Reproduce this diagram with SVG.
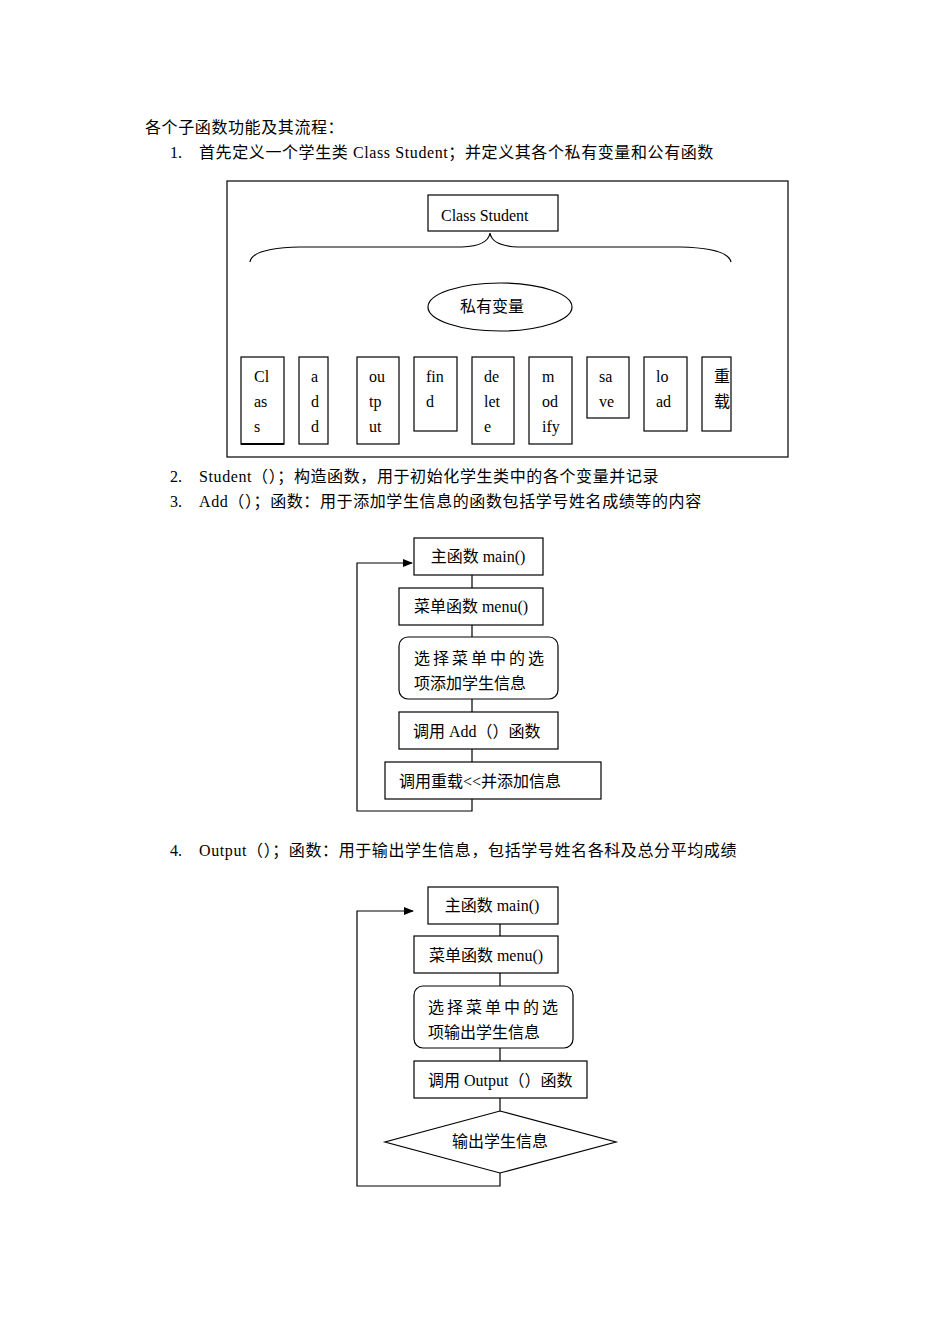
<svg xmlns="http://www.w3.org/2000/svg" width="950" height="1344" viewBox="0 0 950 1344">
<style>
text{font-family:"Liberation Serif","Noto Sans CJK SC",serif;font-size:16px;fill:#000}
.b{fill:#fff;stroke:#000;stroke-width:1.2}
.l{fill:none;stroke:#000;stroke-width:1.2}
.m{text-anchor:middle}
.w{letter-spacing:0.6px}
</style>
<defs><marker id="a" markerWidth="10" markerHeight="8" refX="9" refY="4" orient="auto" markerUnits="userSpaceOnUse"><path d="M0,0 L10,4 L0,8z"/></marker></defs>
<rect width="950" height="1344" fill="#fff"/>
<text class="w" x="145" y="133">各个子函数功能及其流程：</text>
<text x="170" y="158">1.</text><text class="w" x="199" y="158">首先定义一个学生类 Class Student；并定义其各个私有变量和公有函数</text>
<text x="170" y="482">2.</text><text class="w" x="199" y="482">Student（）；构造函数，用于初始化学生类中的各个变量并记录</text>
<text x="170" y="507">3.</text><text class="w" x="199" y="507">Add（）；函数：用于添加学生信息的函数包括学号姓名成绩等的内容</text>
<text x="170" y="856">4.</text><text class="w" x="199" y="856">Output（）；函数：用于输出学生信息，包括学号姓名各科及总分平均成绩</text>

<g id="frame"><rect class="l" x="227" y="181" width="561" height="276"/></g>
<g id="classStudent"><rect class="b" x="428" y="195" width="130" height="36"/><text x="441" y="221">Class Student</text></g>
<g id="brace"><path class="l" d="M250,262 Q252,248 300,247 L462,247 Q488,246 490,233 Q492,246 518,247 L680,247 Q728,248 731,262"/></g>
<g id="private"><ellipse class="b" cx="500" cy="307" rx="72" ry="24"/><text class="m" x="492" y="312">私有变量</text></g>
<g id="m1"><rect class="b" x="241" y="357" width="43" height="87"/><path d="M241,444H284" stroke="#000" stroke-width="2"/><text x="254" y="382">Cl</text><text x="254" y="407">as</text><text x="254" y="432">s</text></g>
<g id="m2"><rect class="b" x="299" y="357" width="29" height="87"/><text x="311" y="382">a</text><text x="311" y="407">d</text><text x="311" y="432">d</text></g>
<g id="m3"><rect class="b" x="357" y="357" width="42" height="87"/><text x="369" y="382">ou</text><text x="369" y="407">tp</text><text x="369" y="432">ut</text></g>
<g id="m4"><rect class="b" x="414" y="357" width="43" height="74"/><text x="426" y="382">fin</text><text x="426" y="407">d</text></g>
<g id="m5"><rect class="b" x="472" y="357" width="42" height="87"/><text x="484" y="382">de</text><text x="484" y="407">let</text><text x="484" y="432">e</text></g>
<g id="m6"><rect class="b" x="529" y="357" width="43" height="87"/><text x="542" y="382">m</text><text x="542" y="407">od</text><text x="542" y="432">ify</text></g>
<g id="m7"><rect class="b" x="587" y="357" width="42" height="61"/><text x="599" y="382">sa</text><text x="599" y="407">ve</text></g>
<g id="m8"><rect class="b" x="644" y="357" width="43" height="74"/><text x="656" y="382">lo</text><text x="656" y="407">ad</text></g>
<g id="m9"><rect class="b" x="702" y="357" width="29" height="74"/><text x="714" y="382">重</text><text x="714" y="407">载</text></g>

<g id="connectors">
<path class="l" d="M472,575V588M472,625V637M472,699V712M472,749V762"/>
<path class="l" d="M472,799V811H357V563H412" stroke-width="1.6" marker-end="url(#a)"/>
<path class="l" d="M500,924V936M500,973V986M500,1048V1061M500,1098V1111"/>
<path class="l" d="M500,1173V1186H357V911H413" stroke-width="1.6" marker-end="url(#a)"/>
</g>

<g id="f1main"><rect class="b" x="414" y="538" width="129" height="37"/><text class="m" x="478" y="562">主函数 main()</text></g>
<g id="f1menu"><rect class="b" x="399" y="588" width="144" height="37"/><text class="m" x="471" y="612">菜单函数 menu()</text></g>
<g id="f1sel"><rect class="b" x="399" y="637" width="159" height="62" rx="9"/><text x="414" y="664" letter-spacing="3">选择菜单中的选</text><text x="414" y="689">项添加学生信息</text></g>
<g id="f1add"><rect class="b" x="399" y="712" width="159" height="37"/><text x="413" y="737">调用 Add（）函数</text></g>
<g id="f1over"><rect class="b" x="385" y="762" width="216" height="37"/><text x="399" y="787">调用重载&lt;&lt;并添加信息</text></g>

<g id="f2main"><rect class="b" x="428" y="887" width="130" height="37"/><text class="m" x="492" y="911">主函数 main()</text></g>
<g id="f2menu"><rect class="b" x="414" y="936" width="144" height="37"/><text class="m" x="486" y="961">菜单函数 menu()</text></g>
<g id="f2sel"><rect class="b" x="414" y="986" width="159" height="62" rx="9"/><text x="428" y="1013" letter-spacing="3">选择菜单中的选</text><text x="428" y="1038">项输出学生信息</text></g>
<g id="f2out"><rect class="b" x="414" y="1061" width="173" height="37"/><text x="428" y="1086">调用 Output（）函数</text></g>
<g id="f2dia"><path class="b" d="M500,1111L616,1142L500,1173L385,1142Z"/><text class="m" x="500" y="1147">输出学生信息</text></g>
</svg>
